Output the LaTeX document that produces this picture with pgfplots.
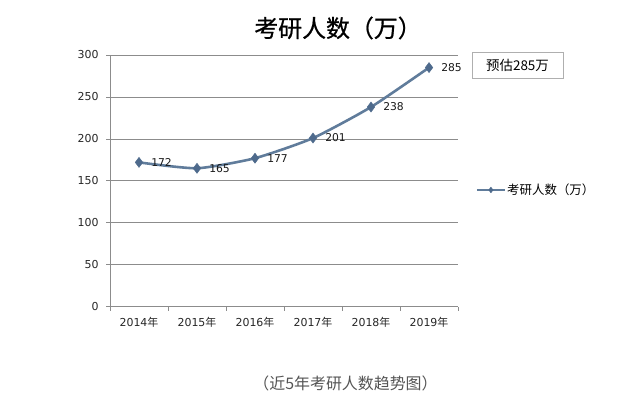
\documentclass[border=0pt]{standalone}
\usepackage{pgfplots}
\pgfplotsset{compat=1.18}
\usepackage{fontspec}
\setmainfont{DejaVu Sans}
\newfontfamily\cjk{Noto Sans CJK SC}
\newfontfamily\cjktitle[FakeBold=0.8]{Noto Sans CJK SC}
\definecolor{linec}{RGB}{96,124,155}
\definecolor{markc}{RGB}{78,106,140}
\definecolor{gridc}{RGB}{140,140,140}
\definecolor{boxc}{RGB}{175,175,175}
\definecolor{capc}{RGB}{85,85,85}
\begin{document}
\begin{tikzpicture}[x=1bp,y=1bp]
\useasboundingbox (0,0) rectangle (636,394);
\begin{axis}[
  at={(110bp,87.3bp)}, anchor=south west,
  scale only axis, width=348bp, height=251.7bp,
  xmin=-0.5, xmax=5.5, ymin=0, ymax=300,
  ytick={0,50,...,300},
  xtick={0,...,5},
  xticklabels={2014{\cjk 年},2015{\cjk 年},2016{\cjk 年},2017{\cjk 年},2018{\cjk 年},2019{\cjk 年}},
  minor xtick={-0.5,0.5,...,5.5},
  major x tick style={draw=none},
  minor tick length=4bp, major tick length=4bp,
  tick align=outside,
  axis x line*=bottom, axis y line*=left,
  axis line style={gridc,-, line width=0.8bp},
  tick style={gridc, line width=0.8bp},
  ymajorgrids, grid style={gridc, line width=0.8bp},
  /pgf/number format/assume math mode=true,
  tick label style={font=\fontsize{11}{13}\selectfont, text=black!85},
  yticklabel style={xshift=-4bp},
  xticklabel style={yshift=-3bp},
  legend style={draw=none, fill=none, at={(1.05,0.4637)}, anchor=west,
    font=\cjk\fontsize{12.5}{14}\selectfont, inner sep=0pt,
    nodes={inner sep=1bp}},
  legend image code/.code={\draw[#1, mark size=2.8bp, mark repeat=2, mark phase=2] plot coordinates {(0bp,0bp) (14bp,0bp) (28bp,0bp)};},
  nodes near coords,
  every node near coord/.append style={anchor=west, xshift=11.5bp, yshift=0bp, inner sep=0.5bp,
     font=\fontsize{10.8}{12}\selectfont, text=black!90},
  clip=false,
]
\addplot[linec, line width=2.6bp, smooth, tension=0.35, mark=diamond*, mark size=5bp,
  mark options={fill=markc, draw=markc, line width=0.5bp}]
  coordinates {(0,172) (1,165) (2,177) (3,201) (4,238) (5,285)};
\addlegendentry{考研人数（万）}
\end{axis}
\node[font=\cjktitle\fontsize{24}{26}\selectfont] at (338,366) {考研人数（万）};
\node[draw=boxc, line width=0.8bp, minimum width=91bp, minimum height=26bp, inner sep=0pt,
  font=\cjk\fontsize{13.5}{15}\selectfont] at (517.5,329) {预估285万};
\node[font=\cjk\fontsize{16}{18}\selectfont, text=capc] at (345.5,11) {（近5年考研人数趋势图）};
\end{tikzpicture}
\end{document}
